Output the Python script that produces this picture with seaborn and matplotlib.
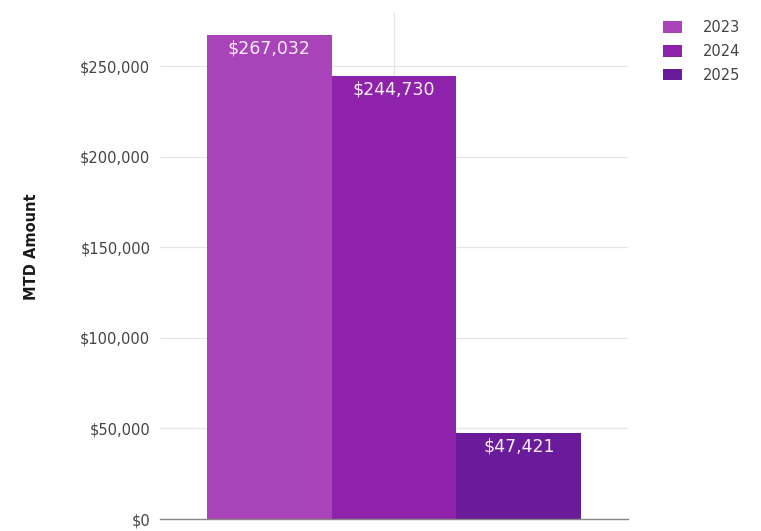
import matplotlib
matplotlib.use("Agg")
import matplotlib.pyplot as plt
import seaborn as sns
import pandas as pd
from matplotlib.patches import Patch
from matplotlib.ticker import FuncFormatter

years = ["2023", "2024", "2025"]
amounts = [267032, 244730, 47421]
category = ["MTD"] * 3
colors = ["#A843BA", "#8E22AA", "#6A1B9A"]

df = pd.DataFrame({"Category": category, "Year": years, "Amount": amounts})

sns.set_theme(style="whitegrid")
plt.rcParams["font.family"] = ["DejaVu Sans"]

fig = plt.figure(figsize=(7.61, 5.31), dpi=100)
ax = fig.add_axes([160 / 761, 12 / 531, 468 / 761, 507 / 531])

sns.barplot(data=df, x="Category", y="Amount", hue="Year", palette=colors,
            width=0.8, saturation=1, ax=ax, legend=False, errorbar=None,
            linewidth=0, edgecolor="none")

ax.set_ylim(0, 280000)
ax.set_xlim(-0.5, 0.5)
ax.set_yticks([0, 50000, 100000, 150000, 200000, 250000])
ax.yaxis.set_major_formatter(FuncFormatter(lambda v, p: f"${v:,.0f}"))
ax.set_xticklabels([])
ax.set_xlabel("")
ax.set_ylabel("MTD Amount", fontsize=10.5, fontweight="bold", color="#1a1a1a",
              family=["Liberation Sans Narrow", "DejaVu Sans"])
ax.yaxis.set_label_coords(-0.259, 0.538)
ax.tick_params(axis="y", labelsize=10.5, labelcolor="#444444", length=0, pad=7)
ax.tick_params(axis="x", length=0)
ax.grid(True, color="#e6e6e6", linewidth=0.9)
for s in ["top", "right", "left"]:
    ax.spines[s].set_visible(False)
ax.spines["bottom"].set_color("#888888")
ax.spines["bottom"].set_linewidth(1.0)

for bar, val in zip(ax.patches, amounts):
    x = bar.get_x() + bar.get_width() / 2
    ax.annotate(f"${val:,}", (x, bar.get_height()), xytext=(0, -3),
                textcoords="offset points", ha="center", va="top",
                color="#fbf0fb", fontsize=12.5)

handles = [Patch(facecolor=c, edgecolor="none", label=y) for c, y in zip(colors, years)]
fig.legend(handles=handles, loc="upper left", bbox_to_anchor=(650 / 761, 1 - 7 / 531),
           frameon=False, fontsize=10.5, handlelength=1.3, handleheight=0.85,
           handletextpad=1.4, labelspacing=0.6, labelcolor="#444444")

fig.savefig("out.png", dpi=100, facecolor="white")
